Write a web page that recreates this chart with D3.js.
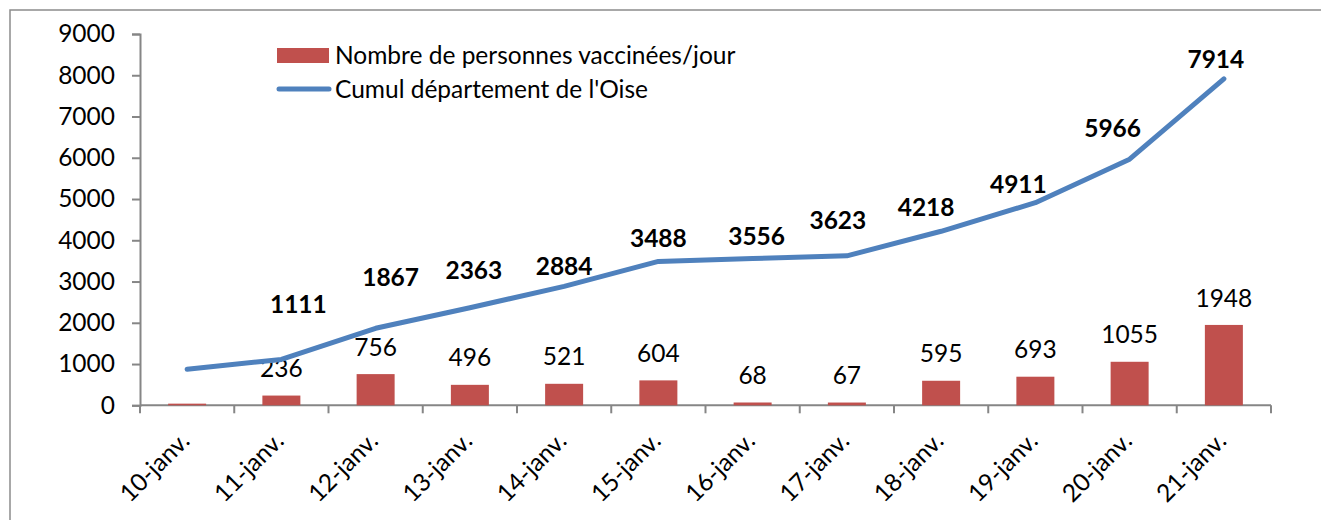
<!DOCTYPE html>
<html>
<head>
<meta charset="utf-8">
<script src="https://cdn.jsdelivr.net/npm/d3@7"></script>
<style>
  html, body { margin: 0; padding: 0; background: #fff; }
  svg { display: block; font-family: Lato, "Open Sans", sans-serif; }
</style>
</head>
<body>
<svg id="chart" width="1321" height="520"></svg>
<script>
// ---- data ----
const categories = ["10-janv.", "11-janv.", "12-janv.", "13-janv.", "14-janv.", "15-janv.",
                    "16-janv.", "17-janv.", "18-janv.", "19-janv.", "20-janv.", "21-janv."];
const dailyValues = [40, 236, 756, 496, 521, 604, 68, 67, 595, 693, 1055, 1948];
const dailyLabels = [null, "236", "756", "496", "521", "604", "68", "67", "595", "693", "1055", "1948"];
const cumulValues = [875, 1111, 1867, 2363, 2884, 3488, 3556, 3623, 4218, 4911, 5966, 7914];
const cumulLabels = [null, "1111", "1867", "2363", "2884", "3488", "3556", "3623", "4218", "4911", "5966", "7914"];
const yTicks = [0, 1000, 2000, 3000, 4000, 5000, 6000, 7000, 8000, 9000];
const seriesNames = ["Nombre de personnes vaccinées/jour", "Cumul département de l'Oise"];

// label placement (pixel offsets of manually placed cumul labels: [dx, label centre y])
const cumulLabelPos = [null, [17, 304], [15, 277], [4, 270], [0, 266], [0, 238], [4, 236],
                       [-9, 220], [-15, 207], [-17, 184], [-17, 128], [-8, 59]];

// ---- layout ----
const svg = d3.select("#chart");
const plotL = 140, plotR = 1271, plotT = 34, plotB = 405.3;
const barColor = "#C0504D", lineColor = "#4F81BD", axisColor = "#868686";
const fontSize = 24.5;

// outer frame
svg.append("rect").attr("x", 10).attr("y", 10).attr("width", 1330).attr("height", 530)
  .attr("fill", "none").attr("stroke", "#8c8c8c").attr("stroke-width", 1.5);

const x = d3.scaleBand().domain(categories).range([plotL, plotR]).paddingInner(0).paddingOuter(0);
const y = d3.scaleLinear().domain([0, 9000]).range([plotB, plotT]);
const cx = i => x(categories[i]) + x.bandwidth() / 2;

// y axis
const yAxis = d3.axisLeft(y).tickValues(yTicks).tickSize(8).tickPadding(17).tickFormat(d3.format("d"));
const gy = svg.append("g").attr("transform", `translate(${plotL},0)`).call(yAxis);
gy.select(".domain").attr("stroke", axisColor).attr("stroke-width", 2);
gy.selectAll(".tick line").attr("stroke", axisColor).attr("stroke-width", 2);
gy.selectAll(".tick text").attr("font-size", fontSize).attr("fill", "#000")
  .attr("font-family", "Lato, sans-serif");

// x axis line + ticks at category boundaries
const gx = svg.append("g");
gx.append("line").attr("x1", plotL).attr("x2", plotR).attr("y1", plotB).attr("y2", plotB)
  .attr("stroke", axisColor).attr("stroke-width", 2);
const boundaries = categories.map(c => x(c)).concat([x(categories[categories.length - 1]) + x.bandwidth()]);
gx.selectAll("line.tk").data(boundaries).enter().append("line").attr("class", "tk")
  .attr("x1", d => d).attr("x2", d => d).attr("y1", plotB).attr("y2", plotB + 8)
  .attr("stroke", axisColor).attr("stroke-width", 2);

gx.selectAll("text.cat").data(categories).enter().append("text").attr("class", "cat")
  .attr("transform", d => `translate(${x(d) + x.bandwidth() / 2 + 4},${plotB + 37}) rotate(-45)`)
  .attr("text-anchor", "end").attr("font-size", fontSize).attr("fill", "#000")
  .text(d => d);

// bars
const barW = 38;
svg.selectAll("rect.bar").data(dailyValues).enter().append("rect").attr("class", "bar")
  .attr("x", (d, i) => cx(i) - barW / 2)
  .attr("width", barW)
  .attr("y", d => y(d))
  .attr("height", d => plotB - y(d))
  .attr("fill", barColor);

// bar labels
const barLabelData = dailyValues.map((v, i) => ({ i, v, t: dailyLabels[i] })).filter(d => d.t !== null);
svg.selectAll("text.blab").data(barLabelData).enter().append("text").attr("class", "blab")
  .attr("x", d => cx(d.i))
  .attr("y", d => y(d.v) - 27)
  .attr("dy", "0.35em")
  .attr("text-anchor", "middle").attr("font-size", fontSize).attr("fill", "#000")
  .text(d => d.t);

// line
const line = d3.line()
  .x((d, i) => cx(i))
  .y(d => y(d));
svg.append("path").datum(cumulValues).attr("d", line)
  .attr("fill", "none").attr("stroke", lineColor).attr("stroke-width", 5)
  .attr("stroke-linecap", "round").attr("stroke-linejoin", "round");

// cumul labels
const cumulLabelData = cumulValues.map((v, i) => ({ i, v, t: cumulLabels[i], p: cumulLabelPos[i] })).filter(d => d.t !== null);
svg.selectAll("text.clab").data(cumulLabelData).enter().append("text").attr("class", "clab")
  .attr("x", d => cx(d.i) + d.p[0])
  .attr("y", d => d.p[1])
  .attr("dy", "0.35em")
  .attr("text-anchor", "middle").attr("font-size", fontSize).attr("font-weight", "bold").attr("fill", "#000")
  .text(d => d.t);

// legend
const lg = svg.append("g");
lg.append("rect").attr("x", 277).attr("y", 48).attr("width", 52).attr("height", 15).attr("fill", barColor);
lg.append("line").attr("x1", 279).attr("x2", 329).attr("y1", 89).attr("y2", 89)
  .attr("stroke", lineColor).attr("stroke-width", 5).attr("stroke-linecap", "round");
lg.append("text").attr("x", 335).attr("y", 55.5).attr("dy", "0.35em").attr("font-size", fontSize)
  .attr("fill", "#000").text(seriesNames[0]);
lg.append("text").attr("x", 335).attr("y", 89).attr("dy", "0.35em").attr("font-size", fontSize)
  .attr("fill", "#000").text(seriesNames[1]);
</script>
</body>
</html>
